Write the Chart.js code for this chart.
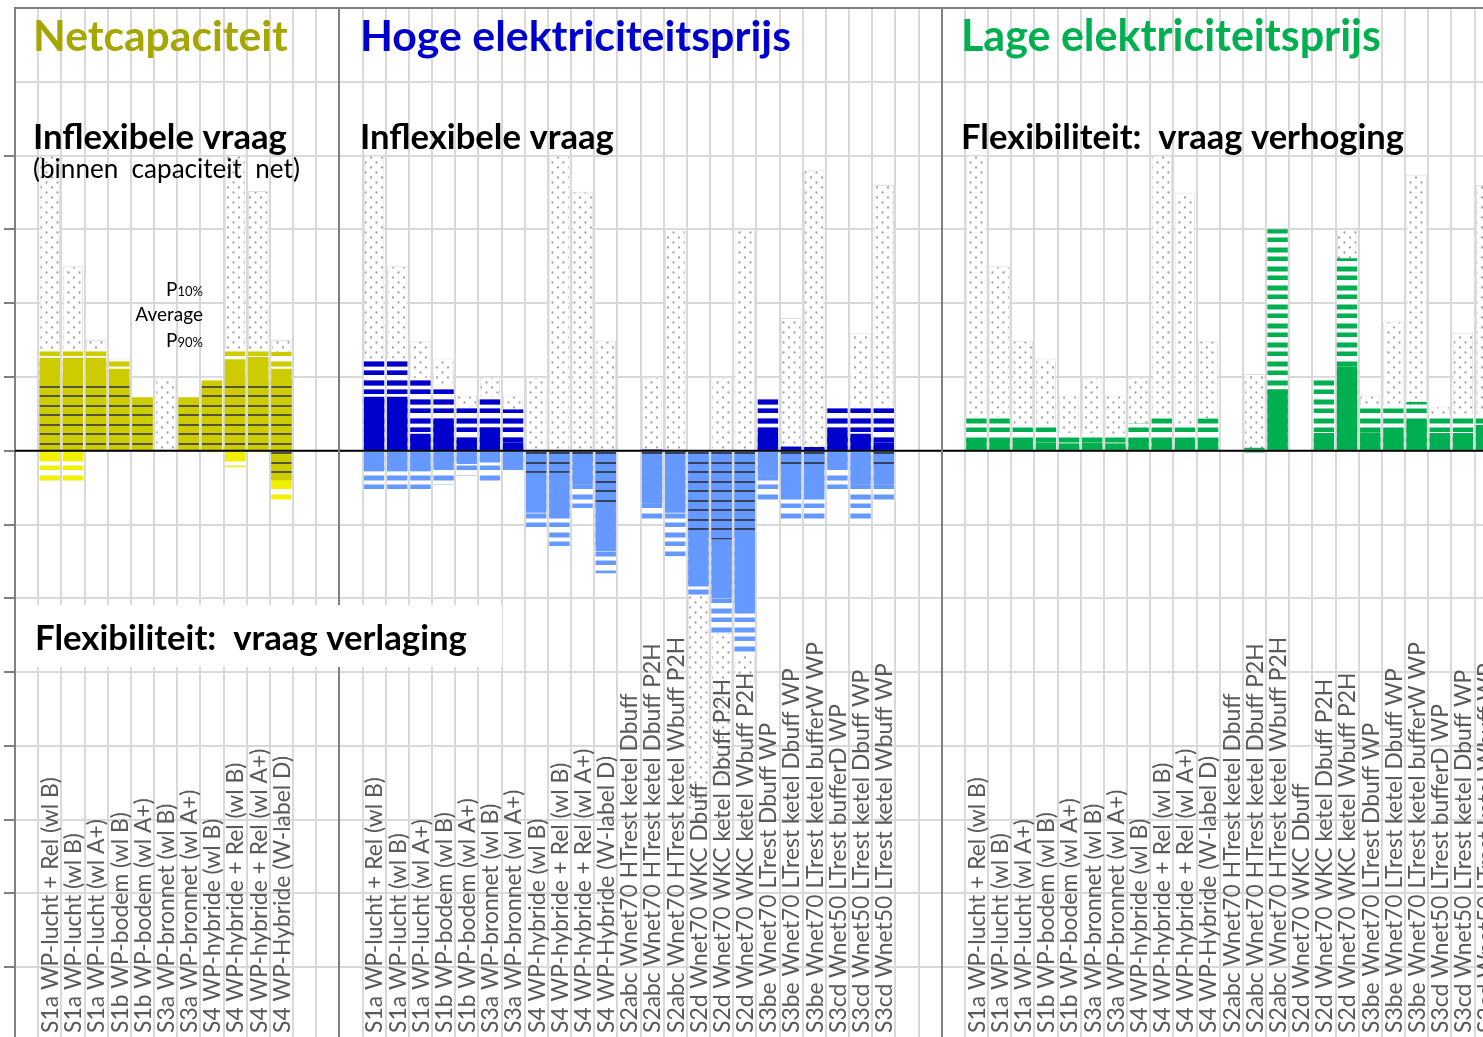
<!DOCTYPE html>
<html><head><meta charset="utf-8">
<script src="https://cdn.jsdelivr.net/npm/chart.js@4.4.1/dist/chart.umd.min.js"></script>
<style>
html,body{margin:0;padding:0;overflow:hidden;background:#fff;width:1483px;height:1037px}
#wrap{position:absolute;left:0;top:0;width:1546px;height:1045px}
</style></head><body>
<div id="wrap"><canvas id="c" width="1546" height="1045"></canvas></div>
<script>
// ---------- categories ----------
const netCats = ["S1a WP-lucht + Rel (wl B)","S1a WP-lucht (wl B)","S1a WP-lucht (wl A+)","S1b WP-bodem (wl B)","S1b WP-bodem (wl A+)","S3a WP-bronnet (wl B)","S3a WP-bronnet (wl A+)","S4 WP-hybride (wl B)","S4 WP-hybride + Rel (wl B)","S4 WP-hybride + Rel (wl A+)","S4 WP-Hybride (W-label D)"];
const warmteCats = ["S2abc Wnet70 HTrest ketel Dbuff","S2abc Wnet70 HTrest ketel Dbuff P2H","S2abc Wnet70 HTrest ketel Wbuff P2H","S2d Wnet70 WKC Dbuff","S2d Wnet70 WKC ketel Dbuff P2H","S2d Wnet70 WKC ketel Wbuff P2H","S3be Wnet70 LTrest Dbuff WP","S3be Wnet70 LTrest ketel Dbuff WP","S3be Wnet70 LTrest ketel bufferW WP","S3cd Wnet50 LTrest bufferD WP","S3cd Wnet50 LTrest ketel Dbuff WP","S3cd Wnet50 LTrest ketel Wbuff WP"];
const flexCats = netCats.concat(warmteCats);

// ---------- panel 1: Netcapaciteit ----------
const netDotHigh = [4.0,2.5,1.5,1.25,0.72,1.0,0.72,0.99,4.0,3.52,1.5];
const netP10     = [1.37,1.37,1.37,1.22,0.73,0,0.72,0.99,1.37,1.37,1.34];
const netAvg     = [1.26,1.26,1.26,1.11,0.72,0,0.72,0.9,1.24,1.27,1.11];
const netP90     = [0.98,0.98,0.98,0.98,0.72,0,0.72,0.9,0.98,0.98,0.98];
const netNegP10  = [-0.43,-0.43,0,0,0,0,0,-0.04,-0.22,-0.03,-0.68];
const netNegAvg  = [-0.12,-0.12,0,0,0,0,0,-0.02,-0.1,-0.02,-0.5];
const netNegP90  = [0,0,0,0,0,0,0,0,0,0,-0.4];

// ---------- panel 2: Hoge elektriciteitsprijs ----------
const hogeDotLow  = [0,0,0,0,0,0,0,0,0,0,0,0,0,0,-4.86,-4.5,-3.14,0,0,0,0,0,0];
const hogeDotHigh = [4.0,2.5,1.49,1.25,0.75,1.0,0.75,1.0,4.0,3.51,1.49,0,1.0,3.0,0,1.0,3.0,0,1.8,3.8,0,1.6,3.6];
const hogeP10     = [1.25,1.25,0.99,0.87,0.6,0.73,0.56,0,0,0,0,0,0.02,0,0,0,0,0.73,0.06,0.05,0.6,0.6,0.6];
const hogeAvg     = [0.73,0.73,0.23,0.4,0.14,0.31,0.11,0,0,0,0,0,0,0,0,0,0,0.26,0.05,0.04,0.26,0.23,0.11];
const hogeNegP10  = [-0.57,-0.57,-0.57,-0.46,-0.34,-0.42,-0.3,-1.1,-1.33,-0.8,-1.66,0,-0.96,-1.43,-1.97,-2.47,-2.77,-0.7,-0.96,-0.94,-0.53,-0.96,-0.7];
const hogeNegAvg  = [-0.28,-0.28,-0.28,-0.22,-0.18,-0.16,-0.22,-0.84,-0.88,-0.46,-1.36,0,-0.72,-0.84,-1.84,-2.0,-2.15,-0.34,-0.62,-0.6,-0.22,-0.46,-0.46];
const hogeNegP90  = [0,0,0,0,0,0,0,-0.3,-0.3,-0.05,-0.78,0,-0.05,-0.05,-1.18,-1.2,-1.18,0,-0.2,-0.2,0,0,-0.2];

// ---------- panel 3: Lage elektriciteitsprijs ----------
const lageDotHigh = [4.0,2.5,1.49,1.25,0.75,1.0,0.75,1.0,4.0,3.5,1.49,0,1.04,0,0,0,3.0,0.75,1.75,3.74,0.6,1.6,3.6];
const lageP10     = [0.46,0.46,0.34,0.34,0.24,0.24,0.2,0.37,0.46,0.34,0.44,0,0.04,3.0,0,0.99,2.61,0.61,0.61,0.66,0.49,0.49,0.49];
const lageAvg     = [0.16,0.16,0.12,0.11,0.1,0.11,0.1,0.15,0.16,0.12,0.17,0,0,0.83,0,0.24,1.14,0.25,0.26,0.4,0.24,0.24,0.35];
const lageNegAvg  = [0,0,0,0,0,0,0,0,0,0,0,0,-0.03,0,0,0,0,0,0,0,0,0,0];

// ---------- layout of the category axis ----------
const NCOLS = 66;
const START = {net:1, hoge:15, lage:41};
const SEPARATORS = [14, 40];

const labels = new Array(NCOLS).fill('');
netCats.forEach((c,i)=>labels[START.net+i]=c);
flexCats.forEach((c,i)=>{labels[START.hoge+i]=c; labels[START.lage+i]=c;});

function span(start, a, b){
  const out = new Array(NCOLS).fill(null);
  const n = Array.isArray(a) ? a.length : b.length;
  for (let i=0;i<n;i++){
    const lo = Array.isArray(a)?a[i]:a, hi = Array.isArray(b)?b[i]:b;
    if (lo !== hi) out[start+i] = [Math.min(lo,hi), Math.max(lo,hi)];
  }
  return out;
}

const canvas = document.getElementById('c');
const ctx = canvas.getContext('2d');
function tile(w,h,draw){const c=document.createElement('canvas');c.width=w;c.height=h;draw(c.getContext('2d'));return ctx.createPattern(c,'repeat');}
const dots = tile(11,10,g=>{g.fillStyle='#ffffff';g.fillRect(0,0,11,10);g.fillStyle='#a2a2a2';
  g.beginPath();g.arc(2.5,2.5,1.15,0,Math.PI*2);g.fill();g.beginPath();g.arc(8,7.5,1.15,0,Math.PI*2);g.fill();});
function stripes(band, fringe){return tile(4,19,g=>{g.fillStyle='#ffffff';g.fillRect(0,0,4,19);
  g.fillStyle=fringe;g.fillRect(0,0,4,1);g.fillRect(0,9,4,1);g.fillRect(0,5,4,1);
  g.fillStyle=band;g.fillRect(0,1,4,4);g.fillRect(0,10,4,4);});}
function lines(bg, line){return tile(4,19,g=>{g.fillStyle=bg;g.fillRect(0,0,4,19);
  g.fillStyle=line;g.fillRect(0,6,4,2);g.fillRect(0,15,4,2);});}

function ds(data, bg, order, extra){
  return Object.assign({data, backgroundColor:bg, order, grouped:false, barPercentage:0.88, categoryPercentage:1, borderWidth:0}, extra||{});
}
const dotOpts = {borderWidth:1, borderColor:'#e0e0e0', borderSkipped:false};

const datasets = [
  // Netcapaciteit
  ds(span(START.net,0,netDotHigh), dots, 10, dotOpts),
  ds(span(START.net,0,netP10), stripes('#cccc00','#e3e370'), 8),
  ds(span(START.net,0,netAvg), '#cccc00', 7),
  ds(span(START.net,0,netP90), lines('#cccc00','#55553f'), 6),
  ds(span(START.net,netNegP10,0), stripes('#f0f000','#f7f790'), 8),
  ds(span(START.net,netNegAvg,0), '#f0f000', 7),
  ds(span(START.net,netNegP90,0), lines('#cccc00','#55553f'), 6),
  // Hoge elektriciteitsprijs
  ds(span(START.hoge,hogeDotLow,hogeDotHigh), dots, 10, dotOpts),
  ds(span(START.hoge,0,hogeP10), stripes('#0000cc','#6060e0'), 8),
  ds(span(START.hoge,0,hogeAvg), '#0000cc', 7),
  ds(span(START.hoge,hogeNegP10,0), stripes('#6699ff','#b3ccff'), 8),
  ds(span(START.hoge,hogeNegAvg,0), '#6699ff', 7),
  ds(span(START.hoge,hogeNegP90,0), lines('#6699ff','#35425e'), 6),
  // Lage elektriciteitsprijs
  ds(span(START.lage,0,lageDotHigh), dots, 10, dotOpts),
  ds(span(START.lage,0,lageP10), stripes('#00b050','#80d8a8'), 8),
  ds(span(START.lage,0,lageAvg), '#00b050', 7),
  ds(span(START.lage,lageNegAvg,0), '#80d8a8', 7)
];

// ---------- text annotations ----------
const FAMILY = 'Lato';
const titleTexts = [
  {text:'Netcapaciteit', x:33, y:51, w:255, color:'#a6a600', weight:'bold'},
  {text:'Hoge elektriciteitsprijs', x:360, y:51, w:431, color:'#0000cc', weight:'bold'},
  {text:'Lage elektriciteitsprijs', x:961, y:51, w:420, color:'#00b050', weight:'bold'},
  {text:'Inflexibele vraag', x:33, y:149, w:254, color:'#000000', weight:'bold'},
  {text:'(binnen  capaciteit  net)', x:33, y:178, w:267, color:'#000000', weight:'normal'},
  {text:'Inflexibele vraag', x:360, y:149, w:254, color:'#000000', weight:'bold'},
  {text:'Flexibiliteit:  vraag verhoging', x:961, y:149, w:443, color:'#000000', weight:'bold'},
  {text:'Flexibiliteit:  vraag verlaging', x:35, y:650, w:432, color:'#000000', weight:'bold'}
];
const legendTexts = [
  {main:'P', sub:'10%', right:203, y:296},
  {main:'Average', sub:'', right:203, y:321},
  {main:'P', sub:'90%', right:203, y:347}
];
const LABEL_BASE_Y = 1033, LABEL_REF_WIDTH = 256;

function fit(c, text, weight, width){ c.font = weight+' 100px '+FAMILY; return 100*width/c.measureText(text).width; }

const overlay = {
  id:'overlay',
  afterDatasetsDraw(chart){
    const c = chart.ctx, a = chart.chartArea, x = chart.scales.x, y = chart.scales.y;
    c.save();
    const y0 = y.getPixelForValue(0);
    c.strokeStyle = '#000'; c.lineWidth = 2;
    c.beginPath(); c.moveTo(a.left, y0); c.lineTo(a.right, y0); c.stroke();
    const half = (x.getPixelForValue(1) - x.getPixelForValue(0))/2;
    c.strokeStyle = '#808080'; c.lineWidth = 2;
    SEPARATORS.forEach(col=>{const px = Math.round(x.getPixelForValue(col)-half);
      c.beginPath(); c.moveTo(px, a.top); c.lineTo(px, a.bottom); c.stroke();});
    c.restore();
  },
  afterDraw(chart){
    const c = chart.ctx, x = chart.scales.x;
    c.save();
    c.fillStyle = '#ffffff'; c.fillRect(17, 605, 485, 62);
    c.textBaseline = 'alphabetic'; c.textAlign = 'left';
    titleTexts.forEach(t=>{
      const s = fit(c, t.text, t.weight, t.w);
      c.font = t.weight+' '+s.toFixed(2)+'px '+FAMILY; c.fillStyle = t.color;
      c.fillText(t.text, t.x, t.y);
    });
    c.fillStyle = '#000'; c.textAlign = 'right';
    legendTexts.forEach(t=>{
      c.font = '13px '+FAMILY; const sw = t.sub ? c.measureText(t.sub).width : 0;
      if (t.sub) c.fillText(t.sub, t.right, t.y);
      c.font = '19px '+FAMILY; c.fillText(t.main, t.right - sw, t.y);
    });
    const ls = fit(c, netCats[0], 'normal', LABEL_REF_WIDTH);
    c.font = 'normal '+ls.toFixed(2)+'px '+FAMILY; c.fillStyle = '#595959';
    c.textAlign = 'left'; c.textBaseline = 'middle';
    labels.forEach((lab,i)=>{
      if (!lab) return;
      c.save(); c.translate(x.getPixelForValue(i)+1, LABEL_BASE_Y); c.rotate(-Math.PI/2);
      c.fillText(lab, 0, 0); c.restore();
    });
    c.restore();
  }
};

function build(){
  new Chart(ctx, {
    type:'bar',
    data:{labels, datasets},
    options:{
      responsive:false, animation:false, devicePixelRatio:1, events:[],
      layout:{padding:{left:0, top:8, right:2, bottom:4}},
      plugins:{legend:{display:false}, tooltip:{enabled:false}},
      scales:{
        x:{type:'category', offset:true, ticks:{display:false},
           grid:{offset:true, color:'#d9d9d9', lineWidth:2, drawTicks:false},
           border:{display:false}, afterFit(s){s.height=0;}},
        y:{min:-8, max:6, ticks:{display:false, stepSize:1},
           grid:{lineWidth:2, tickLength:11,
                 color:c=>c.tick.value===6?'#808080':'#d9d9d9',
                 tickColor:c=>(c.tick.value>=5||c.tick.value===-8)?'rgba(0,0,0,0)':'#808080'},
           border:{display:true, color:'#808080', width:2}, afterFit(s){s.width=15;}}
      }
    },
    plugins:[overlay]
  });
}
Promise.all([document.fonts.load('bold 40px Lato'), document.fonts.load('20px Lato')]).then(build, build);
</script>
</body></html>
